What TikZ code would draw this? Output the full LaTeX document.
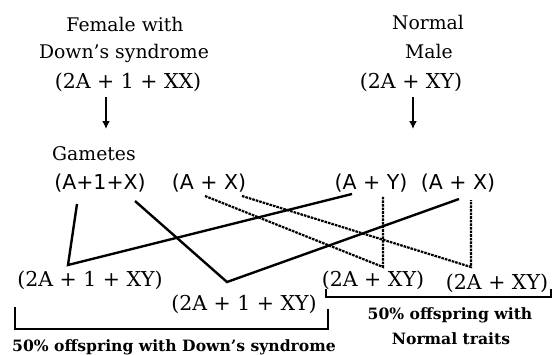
\documentclass[tikz,border=0pt]{standalone}
\usepackage{fontspec}
\setmainfont{DejaVu Serif}
\newfontfamily\gam{DejaVu Sans}
\usetikzlibrary{arrows.meta}
\begin{document}
\begin{tikzpicture}[x=1pt,y=-1pt,
  lab/.style={inner sep=0pt, anchor=base, font=\fontsize{18.8}{22}\selectfont},
  fm/.style={inner sep=0pt, anchor=base, font=\fontsize{20.5}{22}\selectfont},
  gm/.style={inner sep=0pt, anchor=base, font=\gam\fontsize{20.5}{22}\selectfont},
  bl/.style={inner sep=0pt, anchor=base, font=\bfseries\fontsize{15.6}{17}\selectfont},
  ln/.style={line width=2.4pt},
  dl/.style={line width=2.2pt, dash pattern=on 2.6pt off 1pt},
  br/.style={line width=2.3pt},
  arr/.style={line width=2.2pt,-{Latex[length=8pt,width=8pt]}}]
\useasboundingbox (0,0) rectangle (553,354);
% parents
\node[lab] (f1) at (125,31) {Female with};
\node[lab] (f2) at (124,58) {Down's syndrome};
\node[fm] (f3) at (128,88) {(2A + 1 + XX)};
\node[lab] (m1) at (428,29) {Normal};
\node[lab] (m2) at (429,58) {Male};
\node[fm] (m3) at (411,88) {(2A + XY)};
\coordinate (a1s) at (106,97);
\coordinate (a1e) at (106,129);
\coordinate (a2s) at (413,97);
\coordinate (a2e) at (413,129);
\draw[arr] (a1s) -- (a1e);
\draw[arr] (a2s) -- (a2e);
% gametes
\node[lab, anchor=base west] (gt) at (52,160) {Gametes};
\node[gm] (g1) at (100,189) {(A+1+X)};
\node[gm] (g2) at (209,189) {(A + X)};
\node[gm] (g3) at (371,189) {(A + Y)};
\node[gm] (g4) at (458,189) {(A + X)};
% offspring
\node[fm] (o1) at (90,286) {(2A + 1 + XY)};
\node[fm] (o2) at (244,310) {(2A + 1 + XY)};
\node[fm] (o3) at (373,286) {(2A + XY)};
\node[fm] (o4) at (497,289) {(2A + XY)};
% connector points
\coordinate (p1) at (77,204);
\coordinate (v1) at (68,265);
\coordinate (q1) at (352,194);
\coordinate (p2) at (135,201);
\coordinate (v2) at (227,282);
\coordinate (q2) at (459,199);
\coordinate (d1) at (205,196);
\coordinate (w1) at (383,267);
\coordinate (t1) at (383,196);
\coordinate (d2) at (242,196);
\coordinate (w2) at (471,267);
\coordinate (t2) at (471,200);
\draw[ln, line join=miter] (p1) -- (v1) -- (q1);
\draw[ln, line join=miter] (p2) -- (v2) -- (q2);
\draw[dl] (d1) -- (w1) -- (t1);
\draw[dl] (d2) -- (w2) -- (t2);
% brackets
\coordinate (b1) at (15,307);
\coordinate (b2) at (15,329);
\coordinate (b3) at (328,329);
\coordinate (b4) at (328,309);
\draw[br] (b1) -- (b2) -- (b3) -- (b4);
\coordinate (c1) at (326,289);
\coordinate (c2) at (326,297);
\coordinate (c3) at (551,297);
\coordinate (c4) at (551,289);
\draw[br] (c1) -- (c2) -- (c3) -- (c4);
\node[bl] (n1) at (450,319) {50\% offspring with};
\node[bl] (n2) at (451,344) {Normal traits};
\node[bl, anchor=base west] (n3) at (12,351) {50\% offspring with Down's syndrome};
\end{tikzpicture}
\end{document}
